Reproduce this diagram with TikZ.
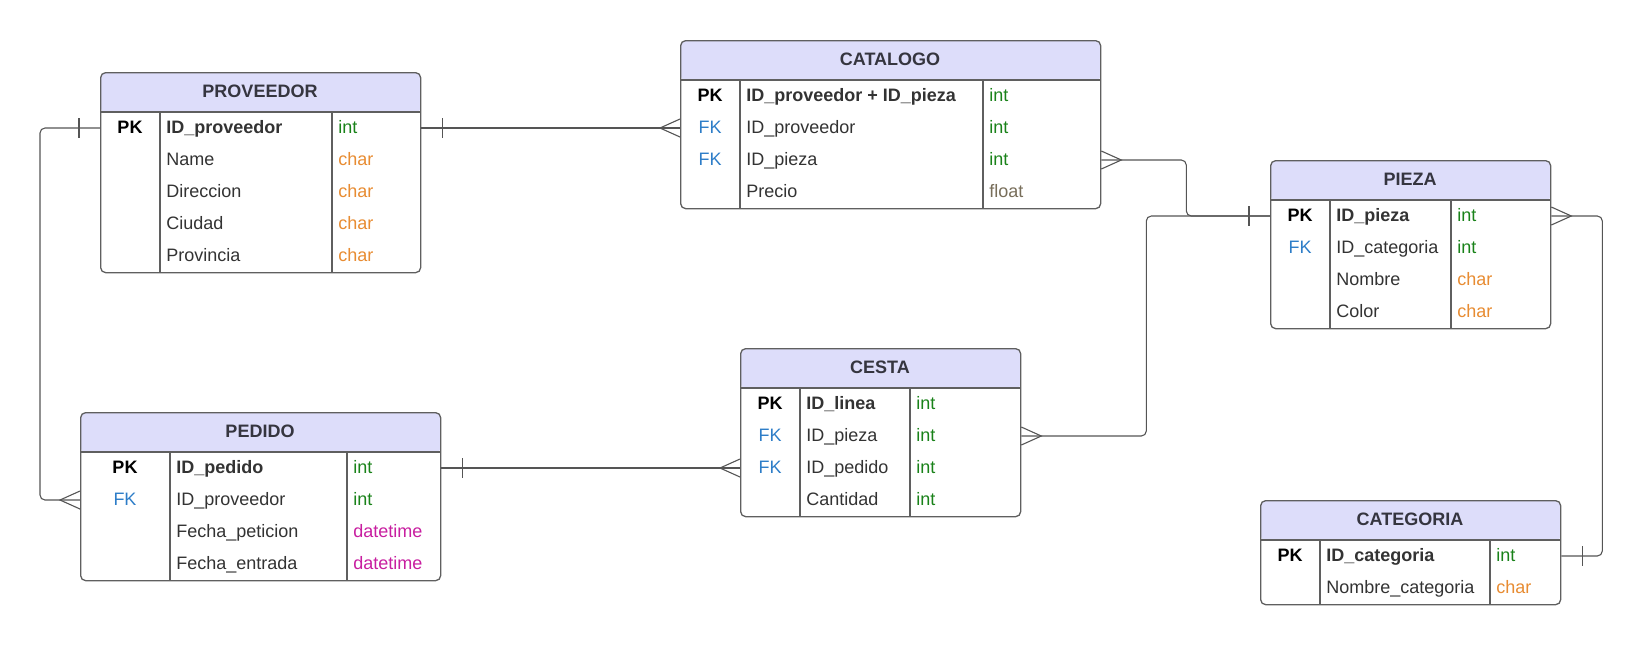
\documentclass[tikz,border=0pt]{standalone}
\usepackage{fontspec}
\setmainfont{Liberation Sans}

\newcommand\cellfont{\fontsize{9pt}{11pt}\selectfont}

\definecolor{hdrfill}{RGB}{221,221,250}
\definecolor{boxgray}{RGB}{95,95,95}
\definecolor{linegray}{RGB}{85,85,85}
\definecolor{textgray}{RGB}{51,51,51}
\definecolor{titlegray}{RGB}{53,53,63}
\definecolor{fkblue}{RGB}{45,125,200}
\definecolor{intgreen}{RGB}{25,130,25}
\definecolor{charorange}{RGB}{232,140,50}
\definecolor{floatgray}{RGB}{120,110,90}
\definecolor{dtmagenta}{RGB}{200,30,160}

\tikzset{
  tbl/.style={draw=boxgray, line width=0.65pt, rounded corners=2.5pt, fill=white,
    anchor=north west, inner sep=0pt,
    path picture={\fill[hdrfill] (path picture bounding box.north west)
      rectangle ([yshift=-20pt]path picture bounding box.north east);}},
  tblline/.style={draw=boxgray, line width=0.6pt},
  cell/.style={inner sep=0pt, text height=6.5pt, text depth=1.5pt,
    font=\cellfont, text=textgray},
  tblhead/.style={cell, font=\cellfont\bfseries, text=titlegray},
  key pk/.style={cell, font=\cellfont\bfseries, text=black},
  key fk/.style={cell, text=fkblue},
  key no/.style={cell},
  field pk/.style={cell, anchor=west, font=\cellfont\bfseries},
  field fk/.style={cell, anchor=west},
  field no/.style={cell, anchor=west},
  type int/.style={cell, anchor=west, text=intgreen},
  type char/.style={cell, anchor=west, text=charorange},
  type float/.style={cell, anchor=west, text=floatgray},
  type datetime/.style={cell, anchor=west, text=dtmagenta},
  rel/.style={draw=linegray, line width=0.55pt, rounded corners=2.5pt},
  crow/.pic={\draw[rel, sharp corners] (0,-9) -- (-20,0) -- (0,9);},
  bar/.pic={\draw[rel] (-21,-10) -- (-21,10);}
}

\begin{document}
\begin{tikzpicture}[x=0.5pt, y=-0.5pt]
\useasboundingbox (0,0) rectangle (1641,644);

% PROVEEDOR
\node[tbl, minimum width=160pt, minimum height=100pt] (prov) at (100,72) {};
\draw[tblline] (100,112) -- (420,112) (160,112) -- (160,272) (332,112) -- (332,272);
\node[tblhead] (prov-h) at (260,92) {PROVEEDOR};
\foreach \st/\kt/\fn/\ty [count=\i] in {pk/PK/ID\_proveedor/int, no//Name/char,
    no//Direccion/char, no//Ciudad/char, no//Provincia/char} {
  \node[key \st]   (prov-k\i) at (130,96+32*\i) {\kt};
  \node[field \st] (prov-\i)  at (166,96+32*\i) {\fn};
  \node[type \ty]  (prov-t\i) at (338,96+32*\i) {\ty};
}

% CATALOGO
\node[tbl, minimum width=210pt, minimum height=84pt] (cat) at (680,40) {};
\draw[tblline] (680,80) -- (1100,80) (740,80) -- (740,208) (983,80) -- (983,208);
\node[tblhead] (cat-h) at (890,60) {CATALOGO};
\foreach \st/\kt/\fn/\ty [count=\i] in {pk/PK/ID\_proveedor + ID\_pieza/int,
    fk/FK/ID\_proveedor/int, fk/FK/ID\_pieza/int, no//Precio/float} {
  \node[key \st]   (cat-k\i) at (710,64+32*\i) {\kt};
  \node[field \st] (cat-\i)  at (746,64+32*\i) {\fn};
  \node[type \ty]  (cat-t\i) at (989,64+32*\i) {\ty};
}

% PIEZA
\node[tbl, minimum width=140pt, minimum height=84pt] (pieza) at (1270,160) {};
\draw[tblline] (1270,200) -- (1550,200) (1330,200) -- (1330,328) (1451,200) -- (1451,328);
\node[tblhead] (pieza-h) at (1410,180) {PIEZA};
\foreach \st/\kt/\fn/\ty [count=\i] in {pk/PK/ID\_pieza/int,
    fk/FK/ID\_categoria/int, no//Nombre/char, no//Color/char} {
  \node[key \st]   (pieza-k\i) at (1300,184+32*\i) {\kt};
  \node[field \st] (pieza-\i)  at (1336,184+32*\i) {\fn};
  \node[type \ty]  (pieza-t\i) at (1457,184+32*\i) {\ty};
}

% PEDIDO
\node[tbl, minimum width=180pt, minimum height=84pt] (ped) at (80,412) {};
\draw[tblline] (80,452) -- (440,452) (170,452) -- (170,580) (347,452) -- (347,580);
\node[tblhead] (ped-h) at (260,432) {PEDIDO};
\foreach \st/\kt/\fn/\ty [count=\i] in {pk/PK/ID\_pedido/int,
    fk/FK/ID\_proveedor/int, no//Fecha\_peticion/datetime,
    no//Fecha\_entrada/datetime} {
  \node[key \st]   (ped-k\i) at (125,436+32*\i) {\kt};
  \node[field \st] (ped-\i)  at (176,436+32*\i) {\fn};
  \node[type \ty]  (ped-t\i) at (353,436+32*\i) {\ty};
}

% CESTA
\node[tbl, minimum width=140pt, minimum height=84pt] (cesta) at (740,348) {};
\draw[tblline] (740,388) -- (1020,388) (800,388) -- (800,516) (910,388) -- (910,516);
\node[tblhead] (cesta-h) at (880,368) {CESTA};
\foreach \st/\kt/\fn/\ty [count=\i] in {pk/PK/ID\_linea/int,
    fk/FK/ID\_pieza/int, fk/FK/ID\_pedido/int, no//Cantidad/int} {
  \node[key \st]   (cesta-k\i) at (770,372+32*\i) {\kt};
  \node[field \st] (cesta-\i)  at (806,372+32*\i) {\fn};
  \node[type \ty]  (cesta-t\i) at (916,372+32*\i) {\ty};
}

% CATEGORIA
\node[tbl, minimum width=150pt, minimum height=52pt] (categ) at (1260,500) {};
\draw[tblline] (1260,540) -- (1560,540) (1320,540) -- (1320,604) (1490,540) -- (1490,604);
\node[tblhead] (categ-h) at (1410,520) {CATEGORIA};
\foreach \st/\kt/\fn/\ty [count=\i] in {pk/PK/ID\_categoria/int,
    no//Nombre\_categoria/char} {
  \node[key \st]   (categ-k\i) at (1290,524+32*\i) {\kt};
  \node[field \st] (categ-\i)  at (1326,524+32*\i) {\fn};
  \node[type \ty]  (categ-t\i) at (1496,524+32*\i) {\ty};
}

% relations
\draw[rel] (prov.east |- prov-1) -- (cat.west |- cat-2);
\pic[xscale=-1] at (prov.east |- prov-1) {bar};
\pic at (cat.west |- cat-2) {crow};

\draw[rel] (prov.west |- prov-1) -- ++(-60,0) |- (ped.west |- ped-2);
\pic at (prov.west |- prov-1) {bar};
\pic at (ped.west |- ped-2) {crow};

\draw[rel] (ped.east |- ped-1) -- (cesta.west |- cesta-3);
\pic[xscale=-1] at (ped.east |- ped-1) {bar};
\pic at (cesta.west |- cesta-3) {crow};

\draw[rel] (cesta.east |- cesta-2) -- ++(125,0) |- (pieza.west |- pieza-1);
\pic[xscale=-1] at (cesta.east |- cesta-2) {crow};

\draw[rel] (cat.east |- cat-3) -- ++(85,0) |- (pieza.west |- pieza-1);
\pic[xscale=-1] at (cat.east |- cat-3) {crow};
\pic at (pieza.west |- pieza-1) {bar};

\draw[rel] (pieza.east |- pieza-1) -- ++(51,0) |- (categ.east |- categ-1);
\pic[xscale=-1] at (pieza.east |- pieza-1) {crow};
\pic[xscale=-1] at (categ.east |- categ-1) {bar};
\end{tikzpicture}
\end{document}
